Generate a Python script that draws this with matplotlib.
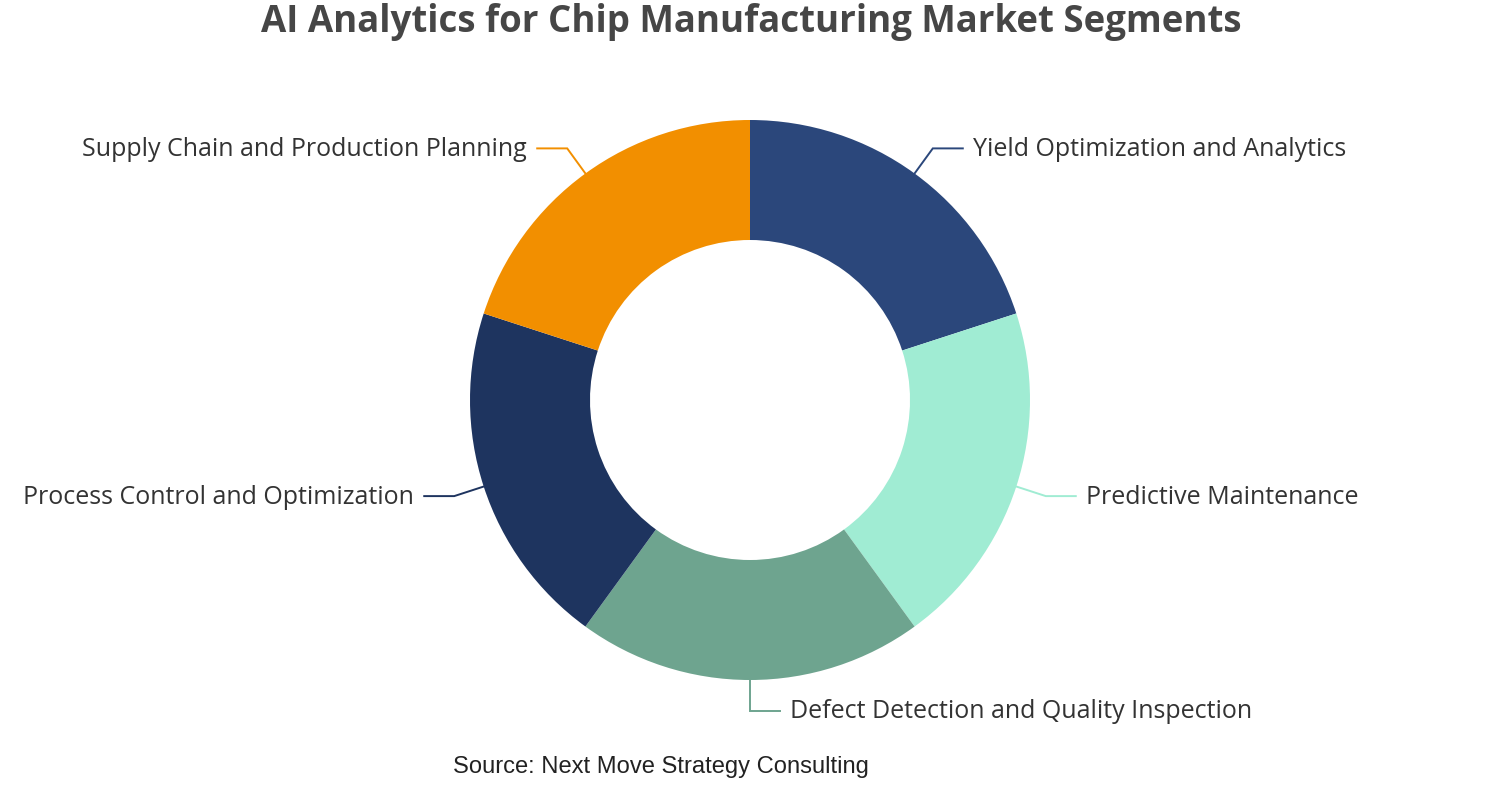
import numpy as np
import matplotlib
matplotlib.use("Agg")
import matplotlib.pyplot as plt

# segments, clockwise from 12 o'clock
segments = [
    "Yield Optimization and Analytics",
    "Predictive Maintenance",
    "Defect Detection and Quality Inspection",
    "Process Control and Optimization",
    "Supply Chain and Production Planning",
]
shares = [20, 20, 20, 20, 20]
colors = ["#2b477b", "#a0ecd3", "#6ea48f", "#1e345f", "#f28f00"]

title = "AI Analytics for Chip Manufacturing Market Segments"
source = "Source: Next Move Strategy Consulting"

W, H = 1502, 800
fig = plt.figure(figsize=(W / 100, H / 100), dpi=100)
ax = fig.add_axes([0, 0, 1, 1])

cx, cy = 750, 400
r_out, r_in = 280, 160

wedges, _ = ax.pie(
    shares, colors=colors, startangle=90, counterclock=False,
    radius=r_out, center=(cx, cy), frame=True,
    wedgeprops=dict(width=r_out - r_in, linewidth=0),
)
ax.set_xlim(0, W)
ax.set_ylim(0, H)
ax.set_aspect("equal")
ax.axis("off")

# mid angle of each slice (degrees, counter-clockwise from +x)
total = sum(shares)
cum = np.cumsum(shares) - np.array(shares) / 2
mids = 90 - 360 * cum / total

# leader lines + labels
len1, len2, gap = 31, 30, 10
for m, name, col in zip(mids, segments, colors):
    a = np.deg2rad(m)
    c, s = np.cos(a), np.sin(a)
    x0, y0 = cx + r_out * c, cy + r_out * s
    x1, y1 = cx + (r_out + len1) * c, cy + (r_out + len1) * s
    right = round(c, 6) >= 0
    sgn = 1 if right else -1
    x2 = x1 + sgn * len2
    ax.plot([x0, x1, x2], [y0, y1, y1], color=col, lw=1.4,
            solid_joinstyle="miter")
    ax.text(x2 + sgn * gap, y1 - 1, name, ha="left" if right else "right",
            va="center", fontsize=18, color="#333333", family="Open Sans")

fig.text(0.5, 1 - 22 / H, title, ha="center", va="center", fontsize=26.4,
         fontweight="bold", color="#464646", family="Open Sans")
fig.text(661 / W, 1 - 767 / H, source, ha="center", va="center",
         fontsize=17.1, color="#222222", family="Liberation Sans")

fig.savefig("out.png", dpi=100)
